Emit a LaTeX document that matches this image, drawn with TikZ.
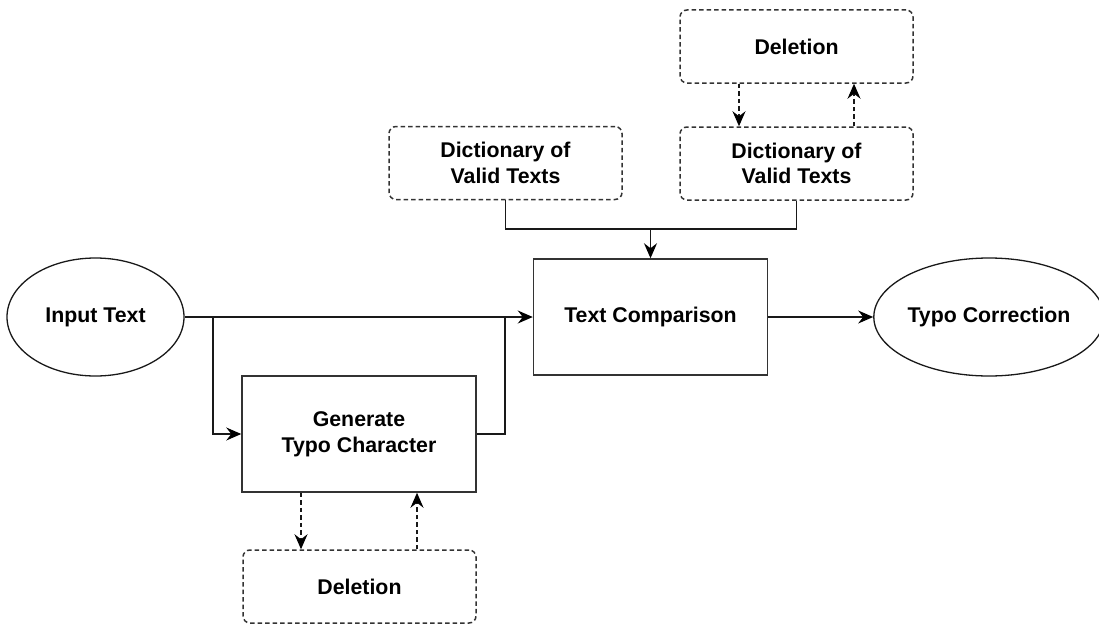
\documentclass[tikz,border=0pt]{standalone}
\usepackage{fontspec}
\setmainfont{Liberation Sans}
\usetikzlibrary{shapes.geometric,arrows.meta}

\tikzset{
  every node/.style={font=\fontsize{21.3}{25.7}\selectfont\bfseries, align=center, inner sep=0pt},
  solidbox/.style={draw=black!80, line width=1.5pt, rectangle, minimum width=234pt, minimum height=116pt},
  dashbox/.style={draw=black!80, line width=1.5pt, rectangle, rounded corners=7pt,
    dash pattern=on 4.5pt off 3pt, minimum width=233pt, minimum height=73pt},
  terminal/.style={draw=black!90, line width=1.3pt, ellipse, minimum height=118pt},
  link/.style={draw=black!90, line width=1.2pt},
  arr/.style={link, -{Stealth[length=15pt, width=13pt, inset=5pt, black]}},
  darr/.style={arr, dash pattern=on 4.5pt off 3pt}
}

\begin{document}
\begin{tikzpicture}[x=1pt, y=-1pt]
  \useasboundingbox (0,0) rectangle (1099,626);

  % main flow
  \node[terminal, minimum width=177pt] (inp) at (95.5,317) {Input Text};
  \node[solidbox] (cmp) at (650.5,317) {Text Comparison};
  \node[terminal, minimum width=208pt] (out) at (989,317) {Typo Correction};
  \node[solidbox] (gen) at (359,434) {Generate\\Typo Character};

  % auxiliary stores
  \node[dashbox] (dell) at (359.5,586.5) {Deletion};
  \node[dashbox] (dictl) at (505.5,163) {Dictionary of\\Valid Texts};
  \node[dashbox] (dictr) at (796.5,163.5) {Dictionary of\\Valid Texts};
  \node[dashbox] (delu) at (796.5,46.5) {Deletion};

  % junction points
  \coordinate (split) at (213,317);
  \coordinate (merge) at (505,317);
  \coordinate (dictjoin) at (650.5,229);

  % input to comparison, with branch through the typo generator
  \draw[arr] (inp.east) -- (cmp.west);
  \draw[arr] (split) |- (gen.west);
  \draw[link] (gen.east) -| (merge);

  % dictionaries feed the comparison
  \draw[link] (dictl.south) |- (dictjoin) -| (dictr.south);
  \draw[arr] (dictjoin) -- (cmp.north);

  % comparison to correction
  \draw[arr] (cmp.east) -- (out.west);

  % deletion exchanges
  \draw[darr] ([xshift=-58pt]gen.south) -- ([xshift=-58.5pt]dell.north);
  \draw[darr] ([xshift=57.5pt]dell.north) -- ([xshift=58pt]gen.south);
  \draw[darr] ([xshift=-57.5pt]delu.south) -- ([xshift=-57.5pt]dictr.north);
  \draw[darr] ([xshift=57.5pt]dictr.north) -- ([xshift=57.5pt]delu.south);
\end{tikzpicture}
\end{document}
